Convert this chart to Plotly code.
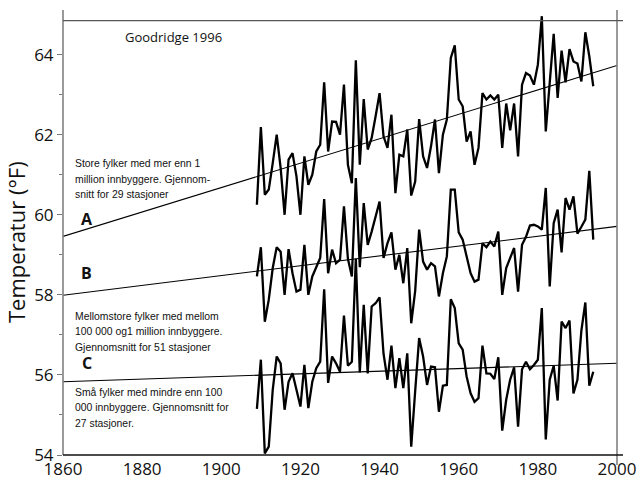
import plotly.graph_objects as go

# ---- data ----
years = list(range(1909, 1995))

temp_a = [60.25, 62.19, 60.5, 60.63, 61.29, 62.0, 61.17, 60.0, 61.38, 61.54,
          60.96, 60.0, 61.46, 60.75, 61.0, 61.58, 61.75, 63.31, 61.58, 62.33,
          62.32, 62.0, 63.25, 61.25, 60.79, 63.86, 61.25, 62.89, 61.63, 61.92,
          62.46, 63.04, 61.96, 61.67, 62.5, 60.54, 61.5, 61.46, 62.13, 60.48,
          60.83, 62.39, 61.46, 61.17, 61.71, 62.38, 61.04, 62.0, 62.38, 63.92,
          64.23, 62.88, 62.71, 61.83, 62.08, 61.25, 61.67, 63.04, 62.88, 62.98,
          62.88, 63.0, 61.67, 62.78, 62.11, 62.78, 61.46, 63.25, 63.54, 63.48,
          63.25, 63.75, 64.96, 62.08, 63.3, 64.52, 62.92, 64.1, 63.31, 64.14,
          63.83, 63.78, 63.33, 64.56, 63.96, 63.21]

temp_b = [58.46, 59.19, 57.33, 57.88, 58.67, 59.19, 59.08, 58.0, 59.14, 58.54,
          58.08, 58.13, 59.25, 58.0, 58.46, 58.71, 58.92, 60.39, 58.54, 59.13,
          58.79, 58.88, 60.21, 58.9, 58.46, 60.92, 58.69, 60.29, 59.25, 59.58,
          59.95, 60.33, 58.92, 59.29, 59.56, 58.63, 59.0, 58.29, 59.17, 57.29,
          58.1, 59.63, 58.83, 58.63, 58.79, 58.71, 57.96, 58.54, 58.96, 60.63,
          60.63, 59.56, 59.38, 58.96, 58.54, 58.33, 58.38, 59.29, 59.19, 59.33,
          59.21, 59.58, 58.0, 58.67, 58.92, 59.17, 58.08, 59.25, 59.45, 59.73,
          59.75, 59.71, 59.63, 60.67, 58.21, 59.79, 60.13, 59.06, 60.42, 60.13,
          60.46, 59.53, 59.7, 59.88, 61.1, 59.38]

temp_c = [55.15, 56.38, 54.04, 54.21, 55.63, 56.46, 56.29, 55.13, 55.83, 56.04,
          55.63, 55.21, 56.25, 55.17, 55.83, 56.17, 56.33, 58.14, 55.8, 56.46,
          56.29, 56.08, 57.48, 56.23, 56.33, 58.9, 56.06, 57.75, 56.04, 57.71,
          57.79, 57.94, 56.53, 55.88, 56.73, 55.67, 56.42, 55.67, 56.54, 54.21,
          55.6, 56.92, 56.46, 55.75, 56.21, 56.19, 55.08, 55.73, 55.75, 57.89,
          57.67, 56.79, 56.63, 55.96, 55.54, 55.33, 55.42, 56.73, 56.04, 56.03,
          55.9, 56.44, 54.61, 55.38, 55.88, 56.19, 54.71, 56.14, 56.33, 56.14,
          56.25, 56.38, 57.67, 54.39, 55.88, 56.23, 55.36, 57.33, 57.17, 57.36,
          55.54, 55.88, 57.11, 57.81, 55.73, 56.08]

trend_years = [1860, 2000]
trend_a = [59.46, 63.73]
trend_b = [57.99, 59.71]
trend_c = [55.83, 56.29]

x_ticks = [1860, 1880, 1900, 1920, 1940, 1960, 1980, 2000]
y_ticks = [54, 56, 58, 60, 62, 64]

label_source = "Goodridge 1996"
lines_a = ["Store fylker med mer enn 1", "million innbyggere. Gjennom-",
           "snitt for 29 stasjoner"]
lines_b = ["Mellomstore fylker med mellom", "100 000 og1 million innbyggere.",
           "Gjennomsnitt for 51 stasjoner"]
lines_c = ["Små fylker med mindre enn 100", "000 innbyggere. Gjennomsnitt for",
           "27 stasjoner."]
y_title = "Temperatur (°F)"

# ---- figure ----
TICKFONT = "Open Sans, Noto Sans, sans-serif"
SMALLFONT = "Liberation Sans, Arial, sans-serif"

Y_TOP = 64.99
PLOT_TOP_PX, PLOT_BOT_PX = 15.0, 455.0
PX_PER_UNIT = (PLOT_BOT_PX - PLOT_TOP_PX) / (Y_TOP - 54)


def yval(py):
    """convert a pixel row of the picture to a y-axis value"""
    return 54 + (PLOT_BOT_PX - py) / PX_PER_UNIT


fig = go.Figure()
for series in (temp_a, temp_b, temp_c):
    fig.add_trace(go.Scatter(x=years, y=series, mode="lines",
                             line=dict(color="black", width=2.3),
                             hoverinfo="skip", showlegend=False))
for tr in (trend_a, trend_b, trend_c):
    fig.add_trace(go.Scatter(x=trend_years, y=tr, mode="lines",
                             line=dict(color="black", width=1.1),
                             hoverinfo="skip", showlegend=False))

fig.update_layout(
    width=644, height=479,
    margin=dict(l=63, r=27, t=15, b=24, autoexpand=False),
    paper_bgcolor="white", plot_bgcolor="white",
    xaxis=dict(range=[1860, 2000], tickvals=x_ticks, ticks="", showgrid=False,
               zeroline=False, showline=False, automargin=False,
               ticklabelstandoff=2,
               tickfont=dict(family=TICKFONT, size=17, color="#111")),
    yaxis=dict(range=[54, Y_TOP], tickvals=y_ticks, ticks="outside", ticklen=5,
               tickcolor="#777", tickwidth=1, showgrid=False, zeroline=False,
               showline=False, automargin=False,
               minor=dict(ticks="outside", ticklen=3, tickcolor="#777", dtick=1,
                          tick0=55, showgrid=False),
               tickfont=dict(family=TICKFONT, size=17, color="#111")),
)

# frame lines (reference frame overshoots the plot corners slightly)
ph = PLOT_BOT_PX - PLOT_TOP_PX
pw = 554.0
top_y = (64.85 - 54) / (Y_TOP - 54)
frame = [
    dict(x0=0, x1=0, y0=0, y1=1 + 5 / ph, color="#808080", width=1.6),
    dict(x0=1, x1=1, y0=-10 / ph, y1=1 + 5 / ph, color="#808080", width=1.6),
    dict(x0=0, x1=1 + 6 / pw, y0=top_y, y1=top_y, color="#555555", width=1.3),
    dict(x0=0, x1=1 + 6 / pw, y0=0, y1=0, color="#111111", width=1.4),
]
for f in frame:
    fig.add_shape(type="line", xref="paper", yref="paper",
                  x0=f["x0"], x1=f["x1"], y0=f["y0"], y1=f["y1"],
                  line=dict(color=f["color"], width=f["width"]), layer="above")

ann = []
ann.append(dict(x=1887.8, y=yval(37), text=label_source, showarrow=False,
                xanchor="center", yanchor="middle",
                font=dict(family=TICKFONT, size=13, color="#111")))
for lines, rows in ((lines_a, (163, 179, 194)), (lines_b, (316, 331.5, 347)),
                    (lines_c, (392, 407, 423))):
    for txt, py in zip(lines, rows):
        ann.append(dict(x=1862.5, y=yval(py), text=txt, showarrow=False,
                        align="left", xanchor="left", yanchor="middle",
                        font=dict(family=SMALLFONT, size=10.4, color="#111")))
for txt, py in (("A", 219), ("B", 273), ("C", 363)):
    ann.append(dict(x=1866.0, y=yval(py), text="<b>%s</b>" % txt,
                    showarrow=False, xanchor="center", yanchor="middle",
                    font=dict(family=TICKFONT, size=16, color="#111")))
ann.append(dict(xref="paper", yref="paper", x=0, y=(PLOT_BOT_PX - 242) / ph,
                xshift=-47, text=y_title, textangle=-90, showarrow=False,
                xanchor="center", yanchor="middle",
                font=dict(family=TICKFONT, size=22, color="#111")))
fig.update_layout(annotations=ann)

fig.write_html("out.html")
